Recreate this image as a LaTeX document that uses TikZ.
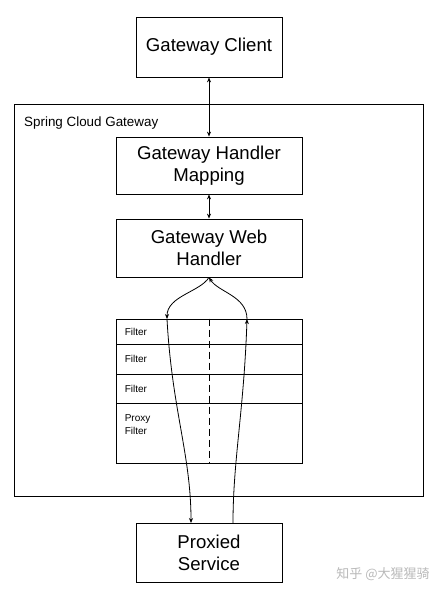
\documentclass[tikz,border=0pt]{standalone}
\usepackage{fontspec}
\setmainfont{Liberation Sans}
\newfontfamily\cjkfont{Noto Sans CJK SC}
\usetikzlibrary{arrows.meta}

\tikzset{
	box/.style={draw, line width=0.8pt, align=center, inner sep=0pt, font=\fontsize{18.6}{22}\selectfont},
	row/.style={draw, line width=0.8pt, minimum width=186pt, inner sep=0pt},
	small/.style={font=\fontsize{10}{13}\selectfont, inner sep=0pt, align=left},
	conn/.style={line width=0.8pt, >={Stealth[length=5pt,width=4pt]}},
}

\begin{document}
\begin{tikzpicture}[x=1pt, y=-1pt]
		\useasboundingbox (0,0) rectangle (443,595);

		\node[draw, line width=0.8pt, minimum width=409pt, minimum height=392pt] (scg) at (218.5,300) {};
		\node[anchor=west, inner sep=0pt, font=\fontsize{13.4}{16}\selectfont] (scglabel) at (24,123) {Spring Cloud Gateway};

		\node[box, minimum width=146pt, minimum height=60pt] (client)  at (209,47)    {Gateway Client};
		\node[box, minimum width=186pt, minimum height=57pt] (mapping) at (209,165.5) {Gateway Handler\\Mapping};
		\node[box, minimum width=186pt, minimum height=58pt] (web)     at (209,248)   {Gateway Web\\Handler};
		\node[box, minimum width=146pt, minimum height=59pt] (proxied) at (209,552.5) {Proxied\\Service};

		% filter chain
		\node[row, minimum height=25pt] (r1) at (209,331.5) {};
		\node[row, minimum height=30pt] (r2) at (209,359)   {};
		\node[row, minimum height=29pt] (r3) at (209,388.5) {};
		\node[row, minimum height=60pt] (r4) at (209,433)   {};
		\node[small, anchor=west] (f1) at ([xshift=9pt]r1.west) {Filter};
		\node[small, anchor=west] (f2) at ([xshift=9pt]r2.west) {Filter};
		\node[small, anchor=west] (f3) at ([xshift=9pt]r3.west) {Filter};
		\node[small, anchor=north west] (f4) at ([shift={(9pt,-12pt)}]r4.north west) {Proxy\\Filter};
		\draw[conn, dash pattern=on 7pt off 4pt] (r1.north) -- (r4.south);

		\coordinate (in1)  at (167,319);
		\coordinate (out1) at (247,319);
		\coordinate (pin)  at (191,523);
		\coordinate (pout) at (233,523);

		\draw[conn, <->] (client)  to (mapping);
		\draw[conn, <->] (mapping) to (web);
		\draw[conn, ->] (web.south) .. controls (200,292) and (167,296) .. (in1);
		\draw[conn, ->] (in1) .. controls (172,410) and (191,455) .. (pin);
		\draw[conn, ->] (pout) .. controls (233,460) and (244,410) .. (out1);
		\draw[conn, ->] (out1) .. controls (247,296) and (218,292) .. (web.south);

		\node[text=gray!55, font=\cjkfont\fontsize{13}{15}\selectfont] (mark) at (383,574) {知乎 @大猩猩骑};
	\end{tikzpicture}
\end{document}
